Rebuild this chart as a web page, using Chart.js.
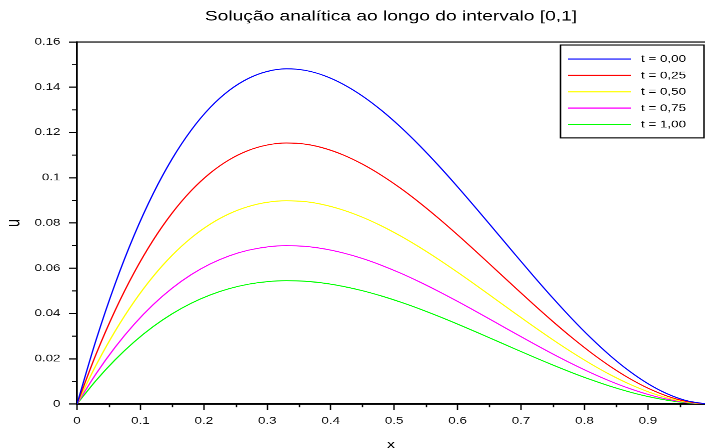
<!DOCTYPE html>
<html>
<head>
<meta charset="utf-8">
<script src="https://cdn.jsdelivr.net/npm/chart.js@4/dist/chart.umd.min.js"></script>
<style>
  html, body { margin: 0; padding: 0; background: #fff; }
  #frame { width: 705px; height: 448px; overflow: hidden; position: relative; background: #fff; }
  /* the figure is drawn taller, then squeezed vertically (wide-looking glyphs) */
  #stretch { width: 705px; height: 630px; transform: scaleY(0.72); transform-origin: 0 0; }
  canvas { display: block; }
</style>
</head>
<body>
<div id="frame"><div id="stretch"><canvas id="chart" width="705" height="630"></canvas></div></div>
<script>
// x positions along the interval
const xValues = [0, 0.03, 0.06, 0.09, 0.12, 0.15, 0.18, 0.21, 0.24, 0.27,
                 0.30, 0.33, 0.36, 0.39, 0.42, 0.45, 0.48, 0.51, 0.54, 0.57,
                 0.60, 0.63, 0.66, 0.69, 0.72, 0.75, 0.78, 0.81, 0.84, 0.87,
                 0.90, 0.93, 0.96, 0.99];

// u(x) at each time
const uT000 = [0, 0.02823, 0.05302, 0.07453, 0.09293, 0.10838, 0.12103, 0.13106, 0.13862, 0.14388,
               0.14700, 0.14814, 0.14746, 0.14512, 0.14129, 0.13613, 0.12979, 0.12245, 0.11426, 0.10539,
               0.09600, 0.08625, 0.07630, 0.06631, 0.05645, 0.04688, 0.03775, 0.02924, 0.02150, 0.01470,
               0.00900, 0.00456, 0.00154, 0.00010];
const uT025 = [0, 0.02198, 0.04129, 0.05804, 0.07237, 0.08440, 0.09426, 0.10207, 0.10796, 0.11206,
               0.11448, 0.11537, 0.11484, 0.11302, 0.11004, 0.10601, 0.10108, 0.09537, 0.08899, 0.08208,
               0.07476, 0.06717, 0.05942, 0.05164, 0.04396, 0.03651, 0.02940, 0.02277, 0.01675, 0.01145,
               0.00701, 0.00355, 0.00120, 0.00008];
const uT050 = [0, 0.01712, 0.03215, 0.04520, 0.05636, 0.06573, 0.07341, 0.07949, 0.08408, 0.08727,
               0.08916, 0.08985, 0.08943, 0.08802, 0.08569, 0.08256, 0.07872, 0.07427, 0.06930, 0.06392,
               0.05822, 0.05231, 0.04627, 0.04022, 0.03424, 0.02843, 0.02290, 0.01774, 0.01304, 0.00892,
               0.00546, 0.00276, 0.00093, 0.00006];
const uT075 = [0, 0.01334, 0.02505, 0.03521, 0.04390, 0.05120, 0.05718, 0.06191, 0.06549, 0.06797,
               0.06944, 0.06998, 0.06966, 0.06855, 0.06674, 0.06431, 0.06131, 0.05785, 0.05398, 0.04979,
               0.04535, 0.04074, 0.03604, 0.03132, 0.02667, 0.02214, 0.01783, 0.01381, 0.01016, 0.00695,
               0.00425, 0.00215, 0.00073, 0.00005];
const uT100 = [0, 0.01039, 0.01951, 0.02742, 0.03419, 0.03987, 0.04453, 0.04822, 0.05100, 0.05294,
               0.05408, 0.05450, 0.05425, 0.05339, 0.05198, 0.05008, 0.04775, 0.04505, 0.04204, 0.03877,
               0.03532, 0.03173, 0.02807, 0.02440, 0.02077, 0.01725, 0.01389, 0.01076, 0.00791, 0.00541,
               0.00331, 0.00168, 0.00057, 0.00004];

const seriesLabels = ['t = 0,00', 't = 0,25', 't = 0,50', 't = 0,75', 't = 1,00'];
const seriesColors = ['#0000ff', '#ff0000', '#ffff00', '#ff00ff', '#00ff00'];
const seriesValues = [uT000, uT025, uT050, uT075, uT100];

const xTickLabels = ['0', '0.1', '0.2', '0.3', '0.4', '0.5', '0.6', '0.7', '0.8', '0.9'];
const yTickLabels = ['0', '0.02', '0.04', '0.06', '0.08', '0.1', '0.12', '0.14', '0.16'];

const FONT = '"Liberation Sans", Arial, Helvetica, sans-serif';
const X_MAJOR = 0.1, Y_MAJOR = 0.02;
const onStep = (v, step) => Math.abs(v / step - Math.round(v / step)) < 1e-6;

// centre the title over the plot area rather than the whole canvas
const titleOverPlot = {
  id: 'titleOverPlot',
  afterLayout(chart) {
    const tb = chart.titleBlock;
    if (tb) {
      tb.left = chart.chartArea.left;
      tb.right = chart.chartArea.right;
    }
  }
};

// short minor tick marks, top frame line and the boxed legend
const decorations = {
  id: 'decorations',
  afterDraw(chart) {
    const { ctx, chartArea } = chart;
    const xs = chart.scales.x, ys = chart.scales.y;
    ctx.save();
    ctx.strokeStyle = '#000';
    ctx.lineWidth = 1.4;
    ctx.beginPath();
    xs.ticks.forEach(t => {
      if (!onStep(t.value, X_MAJOR)) {
        const px = Math.round(xs.getPixelForValue(t.value)) + 0.5;
        ctx.moveTo(px, xs.top);
        ctx.lineTo(px, xs.top + 4.5);
      }
    });
    ys.ticks.forEach(t => {
      if (!onStep(t.value, Y_MAJOR)) {
        const py = ys.getPixelForValue(t.value);
        ctx.moveTo(ys.right - 5, py);
        ctx.lineTo(ys.right, py);
      }
    });
    ctx.stroke();

    // top frame
    ctx.lineWidth = 1.5;
    ctx.beginPath();
    ctx.moveTo(chartArea.left, chartArea.top);
    ctx.lineTo(chartArea.right, chartArea.top);
    ctx.stroke();

    // legend
    const bx = 560.5, by = 62.5, bw = 143.5, bh = 129;
    ctx.fillStyle = '#fff';
    ctx.fillRect(bx, by, bw, bh);
    ctx.lineWidth = 1.5;
    ctx.strokeStyle = '#000';
    ctx.strokeRect(bx, by, bw, bh);
    ctx.font = '13.4px ' + FONT;
    ctx.textBaseline = 'middle';
    ctx.textAlign = 'left';
    chart.data.datasets.forEach((ds, i) => {
      const ry = 82 + i * 22.7;
      ctx.strokeStyle = ds.borderColor;
      ctx.lineWidth = 1.6;
      ctx.beginPath();
      ctx.moveTo(568, ry);
      ctx.lineTo(631, ry);
      ctx.stroke();
      ctx.fillStyle = '#000';
      ctx.fillText(ds.label, 641, ry + 0.5);
    });
    ctx.restore();
  }
};

new Chart(document.getElementById('chart'), {
  type: 'line',
  data: {
    datasets: seriesValues.map((vals, i) => ({
      label: seriesLabels[i],
      data: xValues.map((x, k) => ({ x: x, y: vals[k] })),
      borderColor: seriesColors[i],
      backgroundColor: seriesColors[i],
      borderWidth: 1.4,
      pointRadius: 0,
      fill: false,
      cubicInterpolationMode: 'monotone'
    }))
  },
  options: {
    responsive: false,
    animation: false,
    devicePixelRatio: 2,
    layout: { padding: 0 },
    plugins: {
      legend: { display: false },
      tooltip: { enabled: false },
      title: {
        display: true,
        text: 'Solução analítica ao longo do intervalo [0,1]',
        color: '#000',
        font: { family: FONT, size: 19.2, weight: 'normal', lineHeight: 1.2 },
        padding: { top: 11.5, bottom: 23.8 }
      }
    },
    scales: {
      x: {
        type: 'linear',
        min: 0,
        max: 0.99,
        afterFit(s) { s.height = 68.9; },
        border: { display: true, color: '#000', width: 2 },
        grid: {
          drawOnChartArea: false,
          drawTicks: true,
          tickLength: 8,
          tickWidth: 1.4,
          tickColor: c => (c.tick && onStep(c.tick.value, X_MAJOR)) ? '#000' : 'rgba(0,0,0,0)'
        },
        ticks: {
          stepSize: 0.05,
          includeBounds: false,
          autoSkip: false,
          maxRotation: 0,
          padding: 7.5,
          color: '#111',
          font: { family: FONT, size: 13.4 },
          callback: v => onStep(v, X_MAJOR) ? xTickLabels[Math.round(v / X_MAJOR)] : ''
        },
        title: {
          display: true,
          text: 'x',
          color: '#000',
          font: { family: FONT, size: 17, lineHeight: 1.2 },
          padding: { top: 0, bottom: 1.8 }
        }
      },
      y: {
        type: 'linear',
        min: 0,
        max: 0.16,
        afterFit(s) { s.width = 77; },
        border: { display: true, color: '#000', width: 1.8 },
        grid: {
          drawOnChartArea: false,
          drawTicks: true,
          tickLength: 8,
          tickWidth: 1.6,
          tickColor: c => (c.tick && onStep(c.tick.value, Y_MAJOR)) ? '#000' : 'rgba(0,0,0,0)'
        },
        ticks: {
          stepSize: 0.01,
          autoSkip: false,
          padding: 8.5,
          color: '#111',
          font: { family: FONT, size: 13.4 },
          callback: v => onStep(v, Y_MAJOR) ? yTickLabels[Math.round(v / Y_MAJOR)] : ''
        },
        title: {
          display: true,
          text: 'u',
          color: '#000',
          font: { family: FONT, size: 19, lineHeight: 1.2 },
          padding: { top: 3, bottom: 0 }
        }
      }
    }
  },
  plugins: [titleOverPlot, decorations]
});
</script>
</body>
</html>
